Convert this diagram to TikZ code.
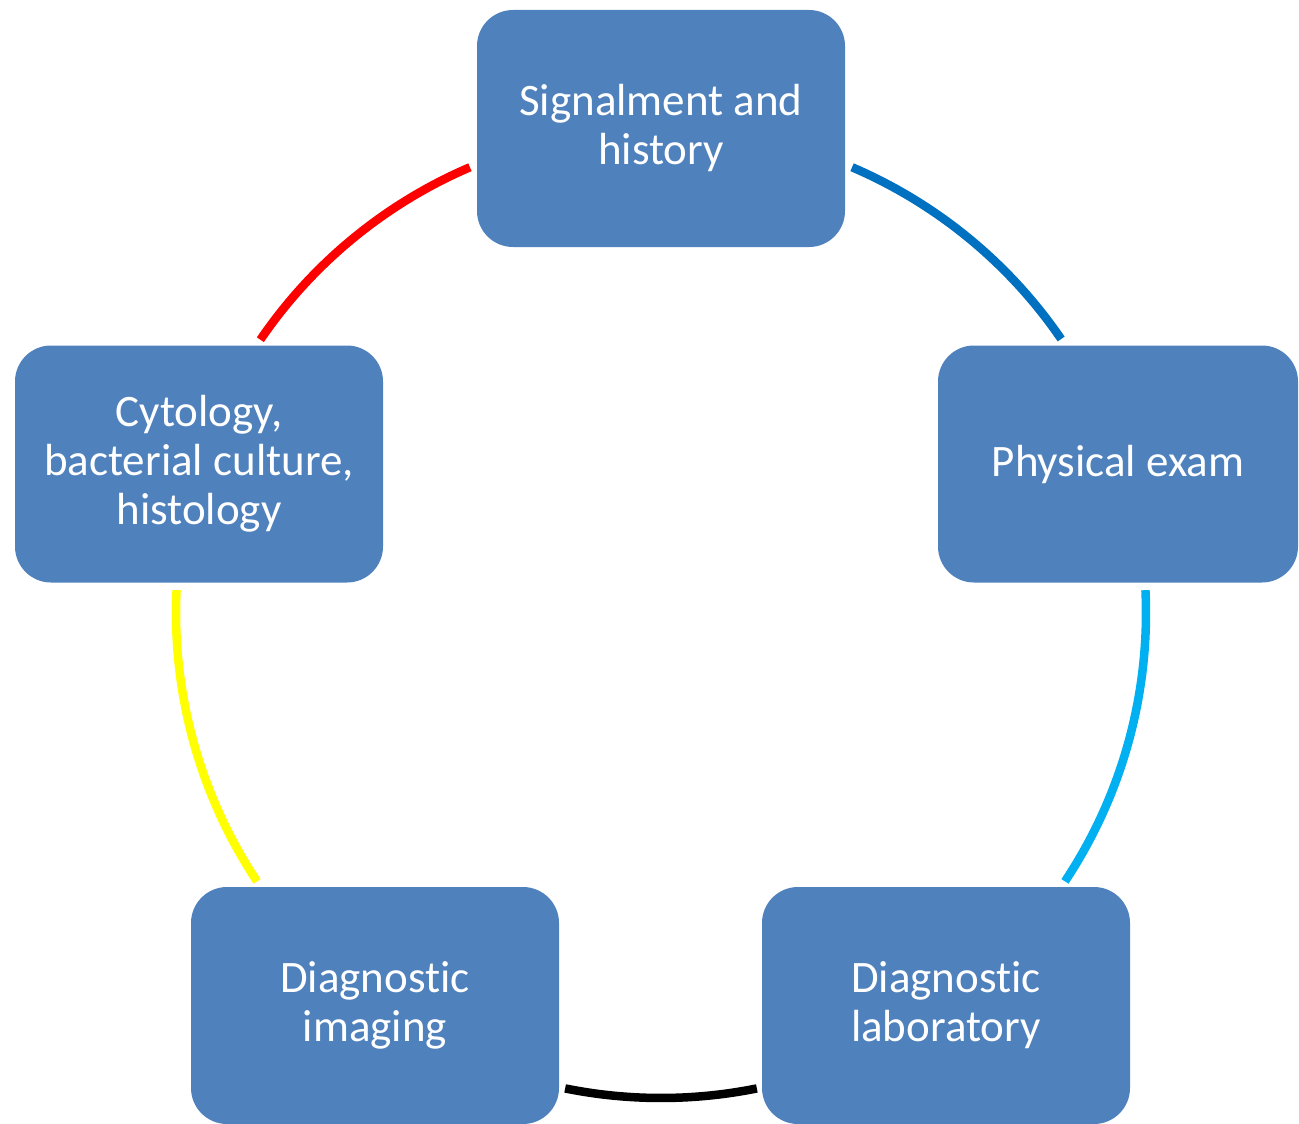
\documentclass[tikz,border=0pt]{standalone}
\usepackage{fontspec}
\setmainfont[Ligatures=NoCommon]{Carlito}
\usetikzlibrary{calc}
\definecolor{boxblue}{HTML}{4F81BD}
\definecolor{arcred}{HTML}{FF0000}
\definecolor{arcblue}{HTML}{0070C0}
\definecolor{arccyan}{HTML}{00B0F0}
\definecolor{arcyellow}{HTML}{FFFF00}
\begin{document}
\begin{tikzpicture}[x=1pt,y=1pt,
  stagebox/.style={fill=boxblue, draw=none, rounded corners=36pt, minimum width=368pt, minimum height=237pt,
    text=white, align=center, font=\fontsize{45}{49}\selectfont, inner sep=0pt},
  cyclearc/.style={line width=8.5pt, line cap=butt}]
\useasboundingbox (0,0) rectangle (1299,-1124);
\node[stagebox] (sig) at (661,-128.5) {Signalment and\\history};
\node[stagebox, minimum width=360pt] (phy) at (1118,-464) {Physical exam};
\node[stagebox] (lab) at (946,-1005.5) {Diagnostic\\laboratory};
\node[stagebox] (img) at (375,-1005.5) {Diagnostic\\imaging};
\node[stagebox] (cyt) at (199,-464) {Cytology,\\bacterial culture,\\histology};
\coordinate (c) at (661,-613);
\draw[cyclearc, arcblue] ($(c)+(66.8:485)$) arc[start angle=66.8, end angle=34.4, radius=485];
\draw[cyclearc, arccyan] ($(c)+(2.7:485)$) arc[start angle=2.7, end angle=-33.6, radius=485];
\draw[cyclearc, black] ($(c)+(-78.6:485)$) arc[start angle=-78.6, end angle=-101.4, radius=485];
\draw[cyclearc, arcyellow] ($(c)+(213.6:485)$) arc[start angle=213.6, end angle=177.3, radius=485];
\draw[cyclearc, arcred] ($(c)+(145.7:485)$) arc[start angle=145.7, end angle=113.2, radius=485];
\end{tikzpicture}
\end{document}
